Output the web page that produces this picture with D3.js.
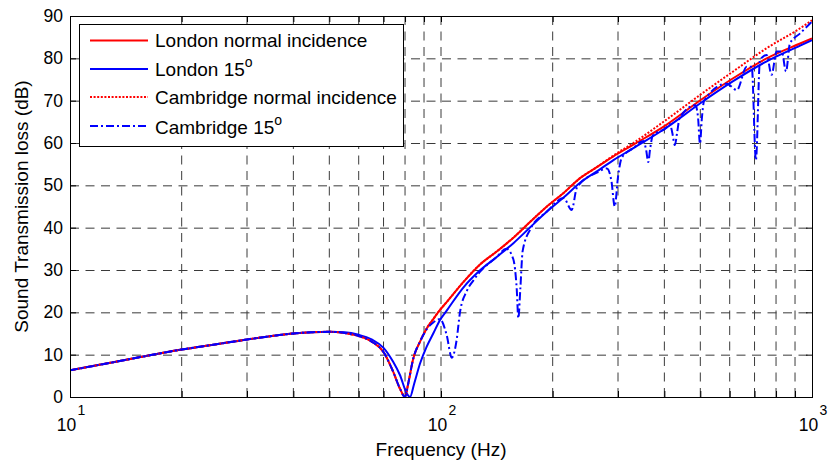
<!DOCTYPE html>
<html><head><meta charset="utf-8">
<script src="https://cdn.jsdelivr.net/npm/d3@7"></script>
<style>
body{margin:0;background:#fff;}
text{font-family:"Liberation Sans",Arial,Helvetica,sans-serif;fill:#000;}
</style></head>
<body><svg id="c" width="829" height="465"></svg>
<script>
// ---- data ----
const freqLN = [10,12,15,20,25,30,35,40,45,50,55,60,65,70,74.3,77.5,80,81.6,84.2,87.8,91.5,95.3,98.2,104,115,127,141,157,174,193,214,237,263,291,330,405,500,613,755,929,1000];
const stlLN  = [6.3,7.6,9.2,11.2,12.5,13.6,14.4,15.0,15.3,15.4,15.1,14.4,13.1,10.6,6.0,2.0,0,3.2,9.1,13.1,16.2,18.4,20.0,22.6,27.2,31.2,34.3,37.7,41.4,45.0,48.2,51.7,54.3,56.8,59.6,64.3,70.1,75.3,80.0,83.5,84.7];

const freqL15 = [10,12,15,20,25,30,35,40,45,50,55,60,65,70,74.3,77.5,80.8,82.5,84.7,87.8,91.5,95.3,99.4,103.6,115,127,141,157,174,193,214,237,263,291,330,405,500,613,755,929,1000];
const stlL15  = [6.3,7.6,9.2,11.2,12.5,13.6,14.4,15.0,15.3,15.4,15.3,14.7,13.6,11.6,8.3,5.2,0.9,0,3.2,7.9,11.9,15.0,18.2,20.4,25.9,29.8,33.0,36.4,40.1,43.8,47.1,50.6,53.3,55.9,58.8,63.6,69.4,74.6,79.3,83.0,84.3];

const freqCN = [10,12,15,20,25,30,35,40,45,50,55,60,65,70,74.3,77.5,80,81.6,84.2,87.8,91.5,95.3,98.2,104,115,127,141,157,174,193,214,237,263,291,330,405,500,613,755,929,1000];
const stlCN  = [6.3,7.6,9.2,11.2,12.5,13.6,14.4,15.0,15.3,15.4,15.1,14.4,13.1,10.6,6.0,2.0,0,3.2,9.1,13.1,16.2,18.4,20.0,22.6,27.2,31.2,34.3,37.7,41.4,45.0,48.2,51.7,54.3,57.0,60.0,65.5,71.4,76.9,82.4,87.1,89.0];

const freqC15 = [10,12,15,20,25,30,35,40,45,50,55,60,65,70,74.3,77.5,80,81.6,84.2,87.8,91.5,95.3,99.4,103.6,106.9,110.2,112.5,117.3,122.2,127.4,141,150,156.6,160,161.6,163.6,166,174,193,214,225,232,237,263,280,288,294,300,307,330,351,357,362,366,372,405,414,420,427,433,440,485,493,499,505,512,589,627,667,688,706,724,755,778,803,829,851,872,929,1000];
const stlC15  = [6.3,7.6,9.2,11.2,12.5,13.6,14.4,15.0,15.3,15.4,15.1,14.4,13.1,10.6,6.0,2.0,0,3.2,9.1,13.1,16.0,17.6,18.4,14.6,9.3,13.5,20.0,25.0,27.5,29.6,33.0,35.0,32.6,25.5,18.6,25.5,34.5,39.6,43.8,47.0,44.2,49.3,50.4,53.0,54.0,51.0,45.0,52.0,56.5,58.8,60.5,58.5,55.5,58.5,61.7,63.6,64.5,62.5,59.5,62.5,66.0,68.9,66.0,59.8,66.0,70.0,74.0,72.5,78.0,78.0,56.0,79.6,80.8,76.1,81.6,81.6,76.9,83.5,85.9,88.7];

const yTicks = [0,10,20,30,40,50,60,70,80,90];
const xMajor = [10,100,1000];
const xExp = ["1","2","3"];
const legendLabels = ["London normal incidence","London 15","Cambridge normal incidence","Cambridge 15"];
const legendSup = ["","o","","o"];
const xLabel = "Frequency (Hz)";
const yLabel = "Sound Transmission loss (dB)";

// ---- drawing ----
const L=70,R=812,T=16,B=397;
const svg=d3.select("#c");
const x=d3.scaleLog().domain([10,1000]).range([L,R]);
const y=d3.scaleLinear().domain([0,90]).range([B,T]);
const allX = x.ticks();

const g=svg.append("g");
// grid
const gridCol="#3a3a3a";
g.selectAll(".vg").data(allX.filter(v=>v>10&&v<1000)).enter().append("line")
 .attr("x1",d=>x(d)).attr("x2",d=>x(d)).attr("y1",B).attr("y2",T)
 .attr("stroke",gridCol).attr("stroke-width",1).attr("stroke-dasharray","9,6.5");
g.selectAll(".hg").data(yTicks.filter(v=>v>0&&v<90)).enter().append("line")
 .attr("x1",L).attr("x2",R).attr("y1",d=>y(d)+0.5).attr("y2",d=>y(d)+0.5)
 .attr("stroke",gridCol).attr("stroke-width",1).attr("stroke-dasharray","9,6.5");

// axes with inward ticks
const tk=6;
function styleAxis(sel){sel.selectAll(".domain").remove();sel.selectAll("line").attr("stroke","#000");}
svg.append("g").attr("transform",`translate(${L},0)`)
 .call(d3.axisLeft(y).tickValues(yTicks).tickSizeInner(-tk).tickSizeOuter(0).tickPadding(7).tickFormat(d3.format("d")))
 .call(styleAxis)
 .call(s=>s.selectAll("text").attr("font-size","17.5px").attr("font-family","Liberation Sans, Arial, sans-serif").attr("fill","#000"));
svg.append("g").attr("transform",`translate(${R},0)`)
 .call(d3.axisRight(y).tickValues(yTicks).tickSizeInner(-tk).tickSizeOuter(0).tickFormat(""))
 .call(styleAxis);
svg.append("g").attr("transform",`translate(0,${B})`)
 .call(d3.axisBottom(x).tickValues(allX).tickSizeInner(-tk).tickSizeOuter(0).tickFormat(""))
 .call(styleAxis);
svg.append("g").attr("transform",`translate(0,${T})`)
 .call(d3.axisTop(x).tickValues(allX).tickSizeInner(-tk).tickSizeOuter(0).tickFormat(""))
 .call(styleAxis);

// x labels with exponents
xMajor.forEach((v,i)=>{
  svg.append("text").attr("x",x(v)-3.5).attr("y",431).attr("text-anchor","middle").attr("font-size","17.5px").text("10");
  svg.append("text").attr("x",x(v)+7.5).attr("y",415).attr("text-anchor","start").attr("font-size","14px").text(xExp[i]);
});
svg.append("text").attr("x",(L+R)/2).attr("y",456).attr("text-anchor","middle").attr("font-size","19px").text(xLabel);
svg.append("text").attr("transform",`translate(28,${(T+B)/2}) rotate(-90)`).attr("text-anchor","middle").attr("font-size","19px").text(yLabel);

// curves
svg.append("clipPath").attr("id","pc").append("rect").attr("x",L).attr("y",T).attr("width",R-L).attr("height",B-T+2);
const line=d3.line().x(d=>x(d[0])).y(d=>y(d[1])).curve(d3.curveMonotoneX);
const series=[
 {f:freqLN,v:stlLN,c:"#ff0000",dash:null},
 {f:freqL15,v:stlL15,c:"#0000ff",dash:null},
 {f:freqCN,v:stlCN,c:"#ff0000",dash:"2,1.6"},
 {f:freqC15,v:stlC15,c:"#0000ff",dash:"8,3,2,3"}
];
const pg=svg.append("g").attr("clip-path","url(#pc)");
series.forEach(s=>{
  pg.append("path").datum(s.f.map((f,i)=>[f,s.v[i]])).attr("d",line)
    .attr("fill","none").attr("stroke",s.c).attr("stroke-width",2)
    .attr("stroke-dasharray",s.dash);
});

// frame
svg.append("rect").attr("x",L+0.5).attr("y",T+0.5).attr("width",R-L).attr("height",B-T)
 .attr("fill","none").attr("stroke","#000").attr("stroke-width",1);

// legend
const lg=svg.append("g");
lg.append("rect").attr("x",79.5).attr("y",24.5).attr("width",324).attr("height",122).attr("fill","#fff").attr("stroke","#000");
const rowsY=[40.5,69,97,126];
const textY=[47,76,104,134];
series.forEach((s,i)=>{
  lg.append("line").attr("x1",90).attr("x2",148).attr("y1",rowsY[i]).attr("y2",rowsY[i])
   .attr("stroke",s.c).attr("stroke-width",2).attr("stroke-dasharray",s.dash);
  const t=lg.append("text").attr("x",155).attr("y",textY[i]).attr("font-size","19px").text(legendLabels[i]);
  if(legendSup[i]) t.append("tspan").attr("dy",-9).attr("font-size","14px").text(legendSup[i]);
});
</script></body></html>
